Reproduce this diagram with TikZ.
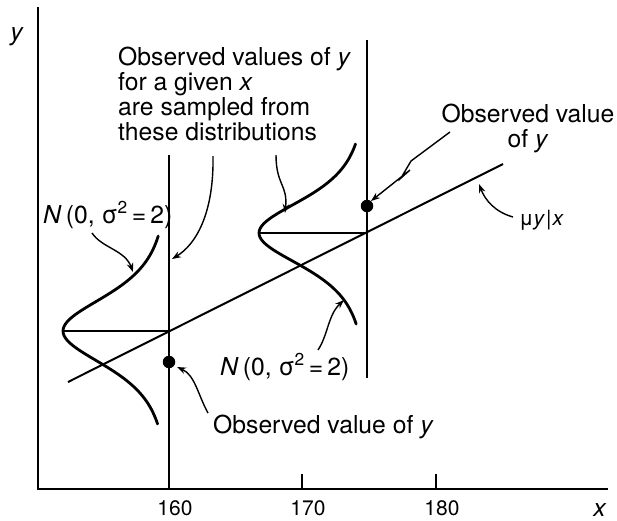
\documentclass[tikz,border=0pt]{standalone}
\usepackage{fontspec}
\setmainfont{TeX Gyre Heros}
\usetikzlibrary{arrows.meta}

\begin{document}
\begin{tikzpicture}[x=1pt, y=-1pt,
    axis/.style={line width=2pt},
    guide/.style={line width=1.7pt},
    bell/.style={line width=2.8pt, line cap=round},
    pointer/.style={line width=1.4pt, -{Stealth[length=9pt, width=6.5pt]}},
    obs/.style={circle, fill=black, inner sep=0pt, minimum size=12.5pt},
    lbl/.style={inner sep=0pt, font=\fontsize{24.7}{25}\selectfont}]

    \useasboundingbox (0,0) rectangle (617,520);

    % Axes and ticks
    \coordinate (ytop) at (38,7);
    \coordinate (o) at (38,489);
    \coordinate (xend) at (608,489);
    \draw[axis] (ytop) -- (o) -- (xend);
    \foreach \v/\px in {160/169, 170/302, 180/436} {
        \draw[axis] (\px,474) -- (\px,489);
        \node[lbl, anchor=base, font=\fontsize{21}{21}\selectfont] (t\v) at (\px+6,515) {\v};
    }
    \node[lbl, anchor=base] (ylab) at (17,40) {\textit{y}};
    \node[lbl, anchor=base] (xlab) at (600,516) {\textit{x}};

    % Regression line
    \coordinate (r0) at (68,382);
    \coordinate (r1) at (503,164);
    \draw[line width=2pt] (r0) -- (r1);

    % Vertical lines at x = 160 and x = 175
    \coordinate (v1top) at (169,155);
    \coordinate (v1bot) at (169,489);
    \coordinate (v2top) at (367,40);
    \coordinate (v2bot) at (367,378);
    \draw[guide] (v1top) -- (v1bot);
    \draw[guide] (v2top) -- (v2bot);

    % Distributions lying on their side
    \coordinate (m1) at (169,331);
    \coordinate (m2) at (367,233);
    \coordinate (pk1) at (63,331);
    \coordinate (pk2) at (259,233);
    \draw[line width=1.8pt] (pk1) -- (m1);
    \draw[line width=1.8pt] (pk2) -- (m2);
    \draw[bell] plot[domain=-95:93, samples=80, variable=\t]
        ({169-106/((1+(\t/65)*(\t/65))*(1+(\t/65)*(\t/65)))}, {331+\t});
    \draw[bell] plot[domain=-89:91, samples=80, variable=\t]
        ({367-108/((1+(\t/62)*(\t/62))*(1+(\t/62)*(\t/62)))}, {233+\t});

    % Observed points
    \node[obs] (d1) at (169,362) {};
    \node[obs] (d2) at (367,206) {};

    % Labels
    \node[lbl, anchor=north west, align=left] (sampled) at (118,47)
        {Observed values of \textit{y}\\for a given \textit{x}\\are sampled from\\these distributions};
    \node[lbl, anchor=north, align=center] (obsright) at (528,104)
        {Observed value\\of \textit{y}};
    \node[lbl, anchor=base west] (nleft) at (43,223)
        {\textit{N}\,(0, σ\textsuperscript{2}\,=\,2)};
    \node[lbl, anchor=base west] (nright) at (220,375)
        {\textit{N}\,(0, σ\textsuperscript{2}\,=\,2)};
    \node[lbl, anchor=base west] (obsbot) at (213,433)
        {Observed value of \textit{y}};
    \node[lbl, anchor=base west, font=\fontsize{21}{21}\selectfont] (mu) at (519,225)
        {μ\textit{y}\kern1pt|\kern1pt\textit{x}};

    % Pointers
    \coordinate (a1s) at (92,233);  \coordinate (a1e) at (133,272);
    \coordinate (a2s) at (213,156); \coordinate (a2e) at (172,259);
    \coordinate (a3s) at (276,155); \coordinate (a3e) at (285,213);
    \coordinate (a4s) at (450,132); \coordinate (a4e) at (371,201);
    \coordinate (a5s) at (513,217); \coordinate (a5e) at (479,184);
    \coordinate (a6s) at (318,350); \coordinate (a6e) at (344,300);
    \coordinate (a7s) at (208,413); \coordinate (a7e) at (177,367);
    \draw[pointer] (a1s) .. controls (102,248) and (125,250) .. (a1e);
    \draw[pointer] (a2s) .. controls (214,215) and (195,245) .. (a2e);
    \draw[pointer] (a3s) .. controls (276,185) and (288,185) .. (a3e);
    \draw[pointer, line join=miter] (a4s) -- (411,161) -- (401,178) -- (410,170) -- (a4e);
    \draw[pointer] (a5s) .. controls (495,212) and (485,200) .. (a5e);
    \draw[pointer] (a6s) .. controls (328,335) and (328,315) .. (a6e);
    \draw[pointer] (a7s) .. controls (198,395) and (195,375) .. (a7e);

\end{tikzpicture}
\end{document}
